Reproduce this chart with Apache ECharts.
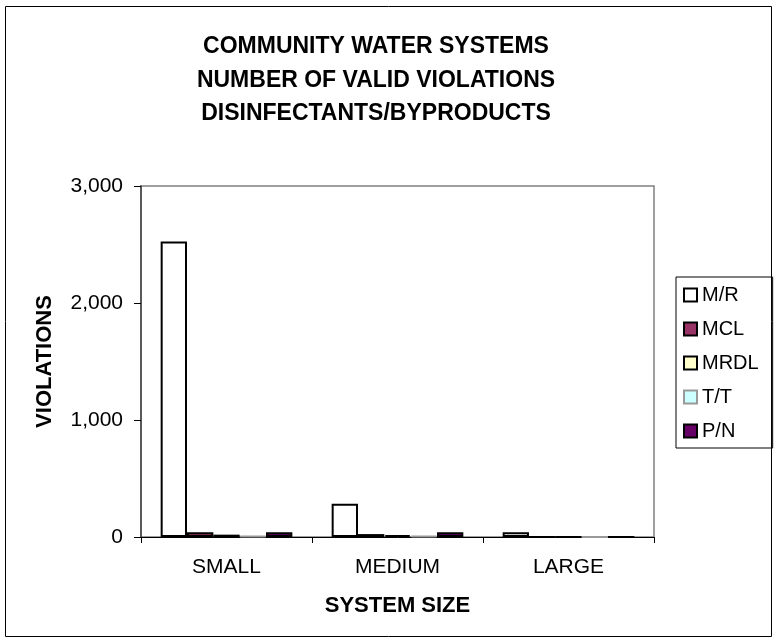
<!DOCTYPE html>
<html>
<head>
<meta charset="utf-8">
<script src="https://cdn.jsdelivr.net/npm/echarts@6/dist/echarts.min.js"></script>
<style>
  html, body { margin: 0; padding: 0; background: #ffffff; }
  #chart { width: 774px; height: 643px; }
</style>
</head>
<body>
<div id="chart"></div>
<script>
// System size categories
const categories = ['SMALL', 'MEDIUM', 'LARGE'];

// Violation counts per violation type
const seriesNames = ['M/R', 'MCL', 'MRDL', 'T/T', 'P/N'];
const mrValues   = [2525, 285, 40];
const mclValues  = [40, 25, 0];
const mrdlValues = [20, 15, 0];
const ttValues   = [10, 10, 0];
const pnValues   = [40, 40, 0];

// Y axis ticks
const yTicks = [0, 1000, 2000, 3000];

const fills   = ['#ffffff', '#993366', '#ffffcc', '#ccffff', '#660066'];
const borders = ['#000000', '#000000', '#000000', '#999999', '#000000'];
const valueSets = [mrValues, mclValues, mrdlValues, ttValues, pnValues];

const font = 'Liberation Sans, Arial, sans-serif';

const chart = echarts.init(document.getElementById('chart'), null, { renderer: 'canvas' });

chart.setOption({
  animation: false,
  backgroundColor: '#ffffff',
  title: {
    text: 'COMMUNITY WATER SYSTEMS\nNUMBER OF VALID VIOLATIONS\nDISINFECTANTS/BYPRODUCTS',
    left: 371,
    textAlign: 'center',
    top: 25,
    textStyle: {
      fontFamily: font,
      fontSize: 23,
      fontWeight: 'bold',
      color: '#000000',
      lineHeight: 33.5
    }
  },
  legend: {
    orient: 'vertical',
    left: 676,
    top: 277,
    itemWidth: 13,
    itemHeight: 13,
    itemGap: 14,
    padding: [8, 14, 7, 7],
    borderColor: '#000000',
    borderWidth: 1,
    icon: 'rect',
    textStyle: { fontFamily: font, fontSize: 20, color: '#000000', padding: [0, 0, 0, 0] },
    data: seriesNames
  },
  grid: {
    left: 141,
    right: 120,
    top: 186,
    bottom: 106,
    show: true,
    borderColor: '#808080',
    borderWidth: 1.5
  },
  xAxis: {
    type: 'category',
    data: categories,
    name: 'SYSTEM SIZE',
    nameLocation: 'middle',
    nameGap: 58,
    nameTextStyle: { fontFamily: font, fontSize: 22, fontWeight: 'bold', color: '#000000' },
    axisLine: { lineStyle: { color: '#000000', width: 1 } },
    axisTick: { show: true, length: 6, lineStyle: { color: '#000000' } },
    axisLabel: { fontFamily: font, fontSize: 21, color: '#000000', margin: 20 },
    splitLine: { show: false }
  },
  yAxis: {
    type: 'value',
    min: 0,
    max: 3000,
    interval: 1000,
    name: 'VIOLATIONS',
    nameLocation: 'middle',
    nameGap: 85,
    nameRotate: 90,
    nameTextStyle: { fontFamily: font, fontSize: 22, fontWeight: 'bold', color: '#000000' },
    axisLine: { show: true, lineStyle: { color: '#404040', width: 1.5 } },
    axisTick: { show: true, length: 7, lineStyle: { color: '#000000' } },
    axisLabel: {
      fontFamily: font,
      fontSize: 21,
      color: '#000000',
      margin: 18,
      formatter: v => yTicks.includes(v) ? v.toLocaleString('en-US') : ''
    },
    splitLine: { show: false }
  },
  graphic: [{
    type: 'rect',
    shape: { x: 5.5, y: 6.5, width: 766, height: 630 },
    style: { fill: 'none', stroke: '#000000', lineWidth: 1 },
    silent: true,
    z: 100
  }],
  series: seriesNames.map((name, i) => ({
    name: name,
    type: 'bar',
    data: valueSets[i],
    barGap: '0%',
    barCategoryGap: '23%',
    itemStyle: {
      color: fills[i],
      borderColor: borders[i],
      borderWidth: 2
    }
  }))
});
</script>
</body>
</html>
